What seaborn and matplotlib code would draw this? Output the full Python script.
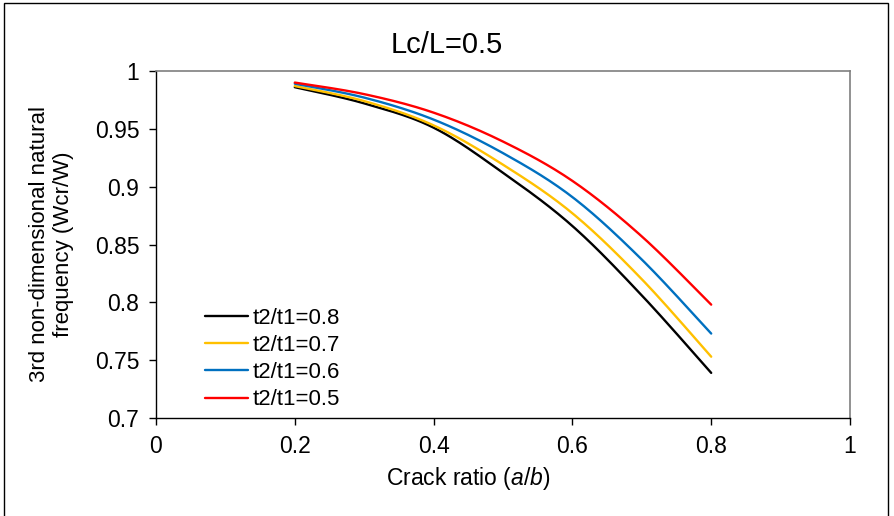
import matplotlib
matplotlib.use("Agg")
import matplotlib.pyplot as plt
from matplotlib.patches import Rectangle
import numpy as np
import pandas as pd
import seaborn as sns

# Crack ratio a/b
crack_ratio = [0.2, 0.3, 0.4, 0.5, 0.6, 0.7, 0.8]

# 3rd non-dimensional natural frequency for each thickness ratio t2/t1
freq_t08 = [0.986, 0.972, 0.951, 0.912, 0.866, 0.806, 0.739]
freq_t07 = [0.987, 0.974, 0.953, 0.919, 0.877, 0.820, 0.753]
freq_t06 = [0.989, 0.977, 0.958, 0.929, 0.891, 0.837, 0.773]
freq_t05 = [0.990, 0.980, 0.964, 0.939, 0.905, 0.857, 0.798]

series_labels = ["t2/t1=0.8", "t2/t1=0.7", "t2/t1=0.6", "t2/t1=0.5"]
series_colors = ["#000000", "#FFC000", "#0070C0", "#FF0000"]

x_ticks = [0, 0.2, 0.4, 0.6, 0.8, 1]
y_ticks = [0.7, 0.75, 0.8, 0.85, 0.9, 0.95, 1]
x_tick_labels = ["0", "0.2", "0.4", "0.6", "0.8", "1"]
y_tick_labels = ["0.7", "0.75", "0.8", "0.85", "0.9", "0.95", "1"]


def smoothed_path(xs, ys, steps=24):
    """Trace a smoothed line through the points (cubic Bezier segments with
    Catmull-Rom control points), returning the traced x/y for plotting."""
    p = np.column_stack([xs, ys]).astype(float)
    ext = np.vstack([p[0], p, p[-1]])
    out = [p[0]]
    t = np.linspace(0, 1, steps + 1)[1:, None]
    for i in range(len(p) - 1):
        p0, p1, p2, p3 = ext[i], ext[i + 1], ext[i + 2], ext[i + 3]
        c1 = p1 + (p2 - p0) / 6.0
        c2 = p2 - (p3 - p1) / 6.0
        seg = ((1 - t) ** 3) * p1 + 3 * ((1 - t) ** 2) * t * c1 \
            + 3 * (1 - t) * t ** 2 * c2 + t ** 3 * p2
        out.extend(seg)
    out = np.array(out)
    return out[:, 0], out[:, 1]


frames = []
for label, values in zip(series_labels, [freq_t08, freq_t07, freq_t06, freq_t05]):
    sx, sy = smoothed_path(crack_ratio, values)
    frames.append(pd.DataFrame({"a/b": sx, "freq": sy, "series": label}))
df = pd.concat(frames, ignore_index=True)

sns.set_theme(style="white")
plt.rcParams["font.family"] = ["Liberation Sans", "DejaVu Sans"]
plt.rcParams["mathtext.fontset"] = "custom"
plt.rcParams["mathtext.rm"] = "Liberation Sans"
plt.rcParams["mathtext.it"] = "Liberation Sans:italic"
plt.rcParams["text.color"] = "#000000"
plt.rcParams["axes.labelcolor"] = "#000000"

fig = plt.figure(figsize=(8.95, 5.16), dpi=100)
ax = fig.add_axes([156 / 895, 1 - 418 / 516, (850 - 156) / 895, (418 - 71) / 516])

sns.lineplot(data=df, x="a/b", y="freq", hue="series", hue_order=series_labels,
             palette=series_colors, linewidth=1.7, sort=False, estimator=None,
             ax=ax, legend=True)

ax.set_xlim(0, 1)
ax.set_ylim(0.7, 1)
ax.set_xticks(x_ticks)
ax.set_xticklabels(x_tick_labels)
ax.set_yticks(y_ticks)
ax.set_yticklabels(y_tick_labels)
ax.tick_params(axis="both", which="major", direction="out", length=5, width=1,
               color="#000000", labelsize=16.5, labelcolor="#000000", pad=7)
ax.tick_params(axis="x", bottom=True)
ax.tick_params(axis="y", left=True)

for side in ["left", "bottom"]:
    ax.spines[side].set_color("#000000")
    ax.spines[side].set_linewidth(1.0)
for side in ["top", "right"]:
    ax.spines[side].set_color("#7f7f7f")
    ax.spines[side].set_linewidth(1.2)

# chart title centred on the whole chart area
fig.text(447 / 895, 1 - 45 / 516, "Lc/L=0.5", fontsize=21, color="#000000",
         ha="center", va="center")

ax.set_xlabel("Crack ratio ($\\mathit{a/b}$)", fontsize=16.5, color="#000000")
ax.xaxis.set_label_coords((468 - 156) / 694, (418 - 478) / 347)
ax.xaxis.label.set_va("center")
ax.set_ylabel("3rd non-dimensional natural\nfrequency (Wcr/W)", fontsize=16,
              color="#000000", labelpad=15, linespacing=1.15)

leg = ax.legend(loc="lower left", bbox_to_anchor=(0.048, -0.023), frameon=False,
                fontsize=16, handlelength=1.95, handletextpad=0.2,
                labelspacing=0.28, borderaxespad=0.3)
for txt in leg.get_texts():
    txt.set_color("#000000")

# outer chart border
fig.patches.append(Rectangle((4 / 895, -0.02), (888 - 4) / 895, 1 - 3 / 516 + 0.02,
                             transform=fig.transFigure, fill=False,
                             edgecolor="#000000", linewidth=1.0))

fig.savefig("out.png", dpi=100)
